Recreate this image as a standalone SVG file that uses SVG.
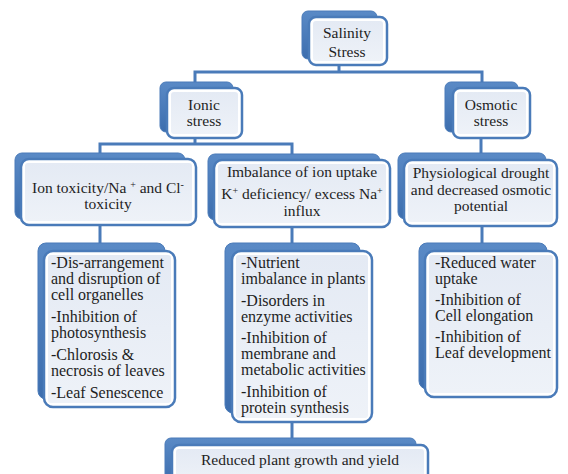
<svg xmlns="http://www.w3.org/2000/svg" width="568" height="474" viewBox="0 0 568 474">
<defs>
<linearGradient id="sh" x1="0" y1="0" x2="0" y2="1">
<stop offset="0" stop-color="#5a8ac6"/>
<stop offset="1" stop-color="#3d6eae"/>
</linearGradient>
<linearGradient id="fg" x1="0" y1="0" x2="0" y2="1">
<stop offset="0" stop-color="#e4eaf4"/>
<stop offset="1" stop-color="#eef2f8"/>
</linearGradient>
</defs>
<rect width="568" height="474" fill="#ffffff"/>
<g id="connectors" stroke="#4a7bb9" stroke-width="3" fill="none">
<path d="M339 64 V72"/>
<path d="M195 83 V72 H482 V83"/>
<path d="M195 137 V144"/>
<path d="M100 153 V144 H292 V154"/>
<path d="M481 137 V153"/>
<path d="M100 224 V243"/>
<path d="M292 226 V243"/>
<path d="M482 225 V243"/>
<path d="M292 421 V438"/>
</g>
<g id="salinity">
<rect fill="url(#sh)" stroke="#4a7bb9" x="302" y="11" width="75" height="48" rx="6"/>
<rect fill="#fff" stroke="#4a7bb9" stroke-width="2.5" x="309" y="17" width="78" height="48" rx="7"/>
<rect fill="url(#fg)" x="313" y="21" width="70" height="40" rx="3"/>
<text x="347" y="38" font-family="Times New Roman" font-size="15.5" fill="#1e1e1e" text-anchor="middle">Salinity</text>
<text x="347" y="57" font-family="Times New Roman" font-size="15.5" fill="#1e1e1e" text-anchor="middle">Stress</text>
</g>
<g id="ionic">
<rect fill="url(#sh)" stroke="#4a7bb9" x="160" y="82" width="73" height="50" rx="6"/>
<rect fill="#fff" stroke="#4a7bb9" stroke-width="2.5" x="167" y="88" width="75" height="50" rx="7"/>
<rect fill="url(#fg)" x="171" y="92" width="67" height="42" rx="3"/>
<text x="204" y="110" font-family="Times New Roman" font-size="15.5" fill="#1e1e1e" text-anchor="middle">Ionic</text>
<text x="204" y="126" font-family="Times New Roman" font-size="15.5" fill="#1e1e1e" text-anchor="middle">stress</text>
</g>
<g id="osmotic">
<rect fill="url(#sh)" stroke="#4a7bb9" x="445" y="82" width="73" height="50" rx="6"/>
<rect fill="#fff" stroke="#4a7bb9" stroke-width="2.5" x="453" y="88" width="77" height="50" rx="7"/>
<rect fill="url(#fg)" x="457" y="92" width="69" height="42" rx="3"/>
<text x="491" y="110" font-family="Times New Roman" font-size="15.5" fill="#1e1e1e" text-anchor="middle">Osmotic</text>
<text x="491" y="126" font-family="Times New Roman" font-size="15.5" fill="#1e1e1e" text-anchor="middle">stress</text>
</g>
<g id="iontox">
<rect fill="url(#sh)" stroke="#4a7bb9" x="15" y="153" width="170" height="66" rx="7"/>
<rect fill="#fff" stroke="#4a7bb9" stroke-width="2.5" x="21" y="159" width="175" height="66" rx="8"/>
<rect fill="url(#fg)" x="25" y="163" width="167" height="58" rx="3"/>
<text x="108" y="193" font-family="Times New Roman" font-size="15.5" fill="#1e1e1e" text-anchor="middle">Ion toxicity/Na <tspan font-size="10" dy="-5">+</tspan><tspan dy="5"> and Cl</tspan><tspan font-size="10" dy="-5">-</tspan></text>
<text x="108" y="209" font-family="Times New Roman" font-size="15.5" fill="#1e1e1e" text-anchor="middle">toxicity</text>
</g>
<g id="imbalance">
<rect fill="url(#sh)" stroke="#4a7bb9" x="208" y="154" width="172" height="66" rx="7"/>
<rect fill="#fff" stroke="#4a7bb9" stroke-width="2.5" x="214" y="160" width="176" height="67" rx="8"/>
<rect fill="url(#fg)" x="218" y="164" width="168" height="59" rx="3"/>
<text x="302" y="177" font-family="Times New Roman" font-size="15.5" fill="#1e1e1e" text-anchor="middle">Imbalance of ion uptake</text>
<text x="302" y="199" font-family="Times New Roman" font-size="15.5" fill="#1e1e1e" text-anchor="middle">K<tspan font-size="10" dy="-5">+</tspan><tspan dy="5"> deficiency/ excess Na</tspan><tspan font-size="10" dy="-5">+</tspan></text>
<text x="302" y="216" font-family="Times New Roman" font-size="15.5" fill="#1e1e1e" text-anchor="middle">influx</text>
</g>
<g id="physio">
<rect fill="url(#sh)" stroke="#4a7bb9" x="398" y="153" width="148" height="66" rx="7"/>
<rect fill="#fff" stroke="#4a7bb9" stroke-width="2.5" x="404" y="160" width="153" height="66" rx="8"/>
<rect fill="url(#fg)" x="408" y="164" width="145" height="58" rx="3"/>
<text x="481" y="178" font-family="Times New Roman" font-size="15.5" fill="#1e1e1e" text-anchor="middle">Physiological drought</text>
<text x="481" y="195" font-family="Times New Roman" font-size="15.5" fill="#1e1e1e" text-anchor="middle">and decreased  osmotic</text>
<text x="481" y="211" font-family="Times New Roman" font-size="15.5" fill="#1e1e1e" text-anchor="middle">potential</text>
</g>
<g id="list-left">
<rect fill="url(#sh)" stroke="#4a7bb9" x="38" y="243" width="127" height="156" rx="8"/>
<rect fill="#fff" stroke="#4a7bb9" stroke-width="2.5" x="44" y="251" width="131" height="156" rx="9"/>
<rect fill="url(#fg)" x="48" y="255" width="123" height="148" rx="3"/>
<text x="51" y="268" font-family="Times New Roman" font-size="16" fill="#1e1e1e">-Dis-arrangement</text>
<text x="51" y="284" font-family="Times New Roman" font-size="16" fill="#1e1e1e">and disruption of</text>
<text x="51" y="300" font-family="Times New Roman" font-size="16" fill="#1e1e1e">cell organelles</text>
<text x="51" y="322" font-family="Times New Roman" font-size="16" fill="#1e1e1e">-Inhibition of</text>
<text x="51" y="338" font-family="Times New Roman" font-size="16" fill="#1e1e1e">photosynthesis</text>
<text x="51" y="360" font-family="Times New Roman" font-size="16" fill="#1e1e1e">-Chlorosis &amp;</text>
<text x="51" y="376" font-family="Times New Roman" font-size="16" fill="#1e1e1e">necrosis of leaves</text>
<text x="51" y="398" font-family="Times New Roman" font-size="16" fill="#1e1e1e">-Leaf Senescence</text>
</g>
<g id="list-mid">
<rect fill="url(#sh)" stroke="#4a7bb9" x="225" y="243" width="135" height="170" rx="8"/>
<rect fill="#fff" stroke="#4a7bb9" stroke-width="2.5" x="232" y="251" width="140" height="171" rx="9"/>
<rect fill="url(#fg)" x="236" y="255" width="132" height="163" rx="3"/>
<text x="241" y="268" font-family="Times New Roman" font-size="16" fill="#1e1e1e">-Nutrient</text>
<text x="241" y="284" font-family="Times New Roman" font-size="16" fill="#1e1e1e">imbalance in plants</text>
<text x="241" y="306" font-family="Times New Roman" font-size="16" fill="#1e1e1e">-Disorders in</text>
<text x="241" y="322" font-family="Times New Roman" font-size="16" fill="#1e1e1e">enzyme activities</text>
<text x="241" y="343" font-family="Times New Roman" font-size="16" fill="#1e1e1e">-Inhibition of</text>
<text x="241" y="359" font-family="Times New Roman" font-size="16" fill="#1e1e1e">membrane and</text>
<text x="241" y="375" font-family="Times New Roman" font-size="16" fill="#1e1e1e">metabolic activities</text>
<text x="241" y="397" font-family="Times New Roman" font-size="16" fill="#1e1e1e">-Inhibition of</text>
<text x="241" y="413" font-family="Times New Roman" font-size="16" fill="#1e1e1e">protein synthesis</text>
</g>
<g id="list-right">
<rect fill="url(#sh)" stroke="#4a7bb9" x="419" y="243" width="128" height="146" rx="8"/>
<rect fill="#fff" stroke="#4a7bb9" stroke-width="2.5" x="425" y="251" width="132" height="146" rx="9"/>
<rect fill="url(#fg)" x="429" y="255" width="124" height="138" rx="3"/>
<text x="435" y="268" font-family="Times New Roman" font-size="16" fill="#1e1e1e">-Reduced  water</text>
<text x="435" y="284" font-family="Times New Roman" font-size="16" fill="#1e1e1e">uptake</text>
<text x="435" y="305" font-family="Times New Roman" font-size="16" fill="#1e1e1e">-Inhibition of</text>
<text x="435" y="321" font-family="Times New Roman" font-size="16" fill="#1e1e1e">Cell elongation</text>
<text x="435" y="342" font-family="Times New Roman" font-size="16" fill="#1e1e1e">-Inhibition of</text>
<text x="435" y="358" font-family="Times New Roman" font-size="16" fill="#1e1e1e">Leaf development</text>
</g>
<g id="result">
<rect fill="url(#sh)" stroke="#4a7bb9" x="165" y="438" width="251" height="44" rx="6"/>
<rect fill="#fff" stroke="#4a7bb9" stroke-width="2.5" x="172" y="445" width="256" height="44" rx="7"/>
<rect fill="url(#fg)" x="176" y="449" width="248" height="36" rx="3"/>
<text x="300" y="465" font-family="Times New Roman" font-size="15.5" fill="#1e1e1e" text-anchor="middle">Reduced plant growth and yield</text>
</g>
</svg>
